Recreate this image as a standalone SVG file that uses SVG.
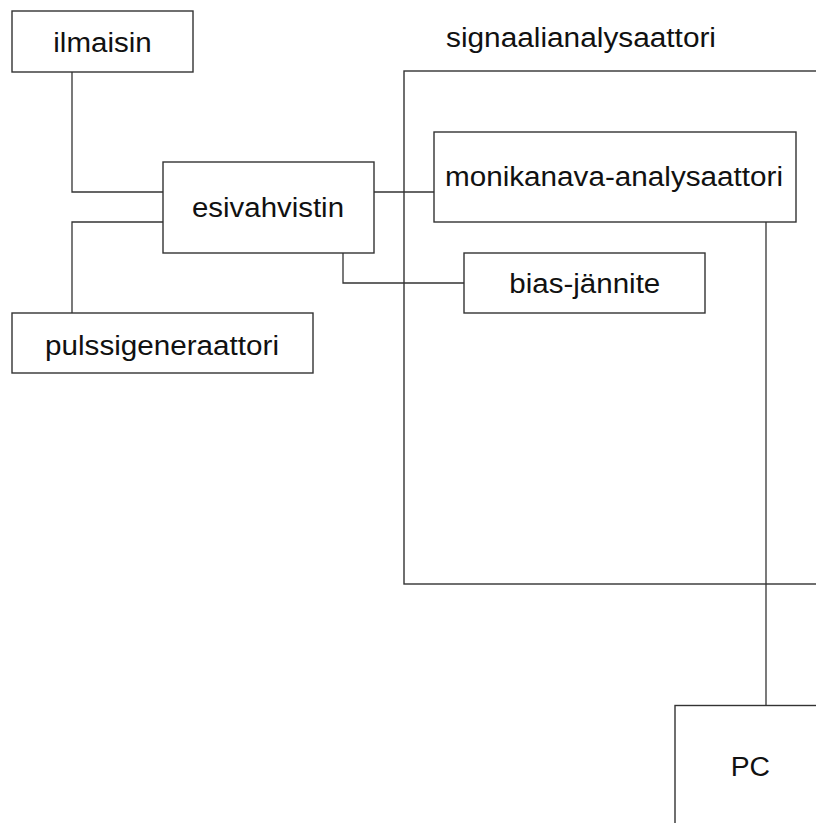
<svg xmlns="http://www.w3.org/2000/svg" width="816" height="823" viewBox="0 0 816 823">
<style>
.box{fill:#fff;stroke:#333;stroke-width:1.4}
.con{fill:none;stroke:#333;stroke-width:1.3}
text{font-family:"Liberation Sans",Arial,sans-serif;font-size:27px;fill:#111}
</style>
<rect width="816" height="823" fill="#fff"/>
<g id="signaalianalysaattori">
<rect class="box" x="404" y="71" width="420" height="513"/>
<text x="446" y="46.5" textLength="270" lengthAdjust="spacingAndGlyphs">signaalianalysaattori</text>
</g>
<g id="connectors">
<polyline class="con" points="72,72 72,192 163,192"/>
<polyline class="con" points="72,313 72,222 163,222"/>
<polyline class="con" points="374,192 434,192"/>
<polyline class="con" points="343,253 343,283 464,283"/>
<polyline class="con" points="766,222 766,705"/>
</g>
<g id="ilmaisin">
<rect class="box" x="12" y="11" width="181" height="61"/>
<text x="53.3" y="52" textLength="98.4" lengthAdjust="spacingAndGlyphs">ilmaisin</text>
</g>
<g id="esivahvistin">
<rect class="box" x="163" y="162" width="211" height="91"/>
<text x="192" y="217.3" textLength="152" lengthAdjust="spacingAndGlyphs">esivahvistin</text>
</g>
<g id="pulssigeneraattori">
<rect class="box" x="12" y="313" width="301" height="60"/>
<text x="45" y="355" textLength="234" lengthAdjust="spacingAndGlyphs">pulssigeneraattori</text>
</g>
<g id="monikanava-analysaattori">
<rect class="box" x="434" y="132" width="362" height="90"/>
<text x="445" y="186" textLength="338" lengthAdjust="spacingAndGlyphs">monikanava-analysaattori</text>
</g>
<g id="bias-jannite">
<rect class="box" x="464" y="253" width="241" height="60"/>
<text x="509.3" y="293" textLength="151" lengthAdjust="spacingAndGlyphs">bias-jännite</text>
</g>
<g id="PC">
<rect class="box" x="675" y="705.5" width="160" height="140"/>
<text x="730.7" y="776" textLength="39.3" lengthAdjust="spacingAndGlyphs">PC</text>
</g>
</svg>
